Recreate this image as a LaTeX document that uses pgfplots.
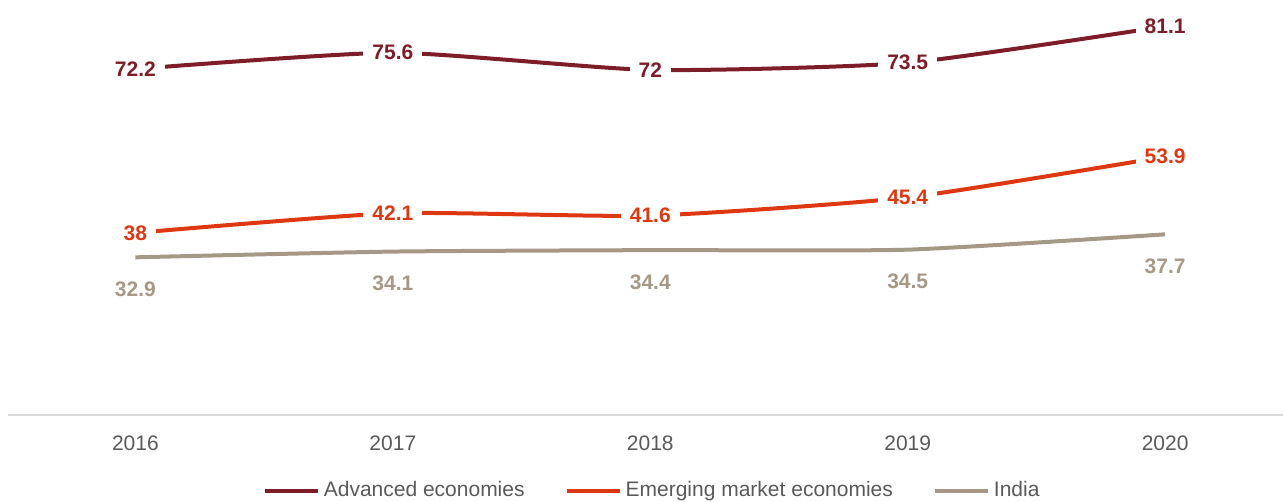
\documentclass[border=0pt]{standalone}
\usepackage{fontspec}
\setmainfont{Liberation Sans}
\usepackage{pgfplots}
\pgfplotsset{compat=1.18}
\definecolor{advC}{RGB}{125,29,42}
\definecolor{emgC}{RGB}{222,56,18}
\definecolor{indC}{RGB}{166,152,134}
\definecolor{tickC}{RGB}{89,89,89}
\definecolor{axisC}{RGB}{217,217,217}
\newcommand{\lblfont}{\fontsize{10.5}{12}\selectfont}

\begin{document}
\begin{tikzpicture}
\path[use as bounding box] (0,0) rectangle (641.5pt,251pt);
\begin{axis}[
    at={(4pt,43.5pt)}, anchor=south west,
    scale only axis, width=637.5pt, height=207.5pt,
    xmin=-0.495, xmax=4.458, ymin=0, ymax=86.6,
    axis x line*=bottom,
    hide y axis,
    x axis line style={draw=axisC, line width=1pt},
    xtick={0,1,2,3,4},
    xticklabels={2016,2017,2018,2019,2020},
    major tick length=0pt,
    xticklabel style={font=\lblfont, text=tickC, inner sep=0pt, yshift=-10pt},
    /pgf/number format/assume math mode=true,
    clip=false,
    nodes near coords,
    every node near coord/.append style={font=\lblfont\bfseries, fill=white,
        inner xsep=4.5pt, inner ysep=1pt, anchor=center},
    legend style={at={(0.506,-0.182)}, anchor=center, draw=none, fill=none,
        legend columns=-1, font=\lblfont, text=tickC,
        /tikz/every even column/.append style={column sep=18pt},
        /tikz/every odd column/.append style={column sep=0pt}},
    legend image code/.code={\draw[#1, line width=2pt] (0pt,0pt) -- (26.5pt,0pt);},
    every axis plot/.append style={line width=2pt, smooth, tension=0.35, mark=none},
]
% Advanced economies
\addplot[advC, every node near coord/.append style={text=advC}] coordinates {
    (0,72.2) (1,75.6) (2,72) (3,73.5) (4,81.1)};
% Emerging market economies
\addplot[emgC, every node near coord/.append style={text=emgC}] coordinates {
    (0,38) (1,42.1) (2,41.6) (3,45.4) (4,53.9)};
% India
\addplot[indC, every node near coord/.append style={text=indC, fill=none, yshift=-16pt}] coordinates {
    (0,32.9) (1,34.1) (2,34.4) (3,34.5) (4,37.7)};
\legend{Advanced economies, Emerging market economies, India}
\end{axis}
\end{tikzpicture}
\end{document}
